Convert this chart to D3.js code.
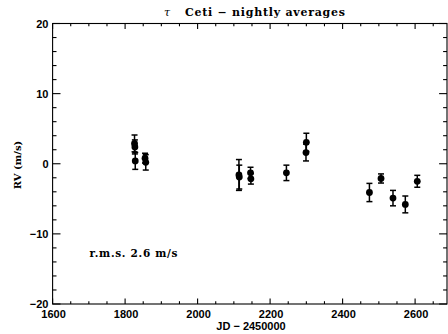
<!DOCTYPE html>
<html><head><meta charset="utf-8">
<script src="https://cdn.jsdelivr.net/npm/d3@7"></script>
<style>body{margin:0;background:#fff}svg{display:block}</style>
</head><body>
<script>
const jd  = [1826, 1827, 1828, 1855, 1857, 2114, 2115, 2146, 2147, 2245, 2299, 2300, 2474, 2506, 2539, 2573, 2606];
const rv  = [2.9, 2.4, 0.4, 0.8, 0.2, -1.6, -1.9, -1.3, -2.15, -1.3, 1.6, 3.05, -4.1, -2.1, -4.9, -5.8, -2.5];
const err = [1.2, 1.0, 1.2, 0.7, 1.1, 2.2, 1.7, 0.8, 0.75, 1.1, 1.2, 1.3, 1.3, 0.65, 1.1, 1.2, 0.85];
const xTicks = [1600, 1800, 2000, 2200, 2400, 2600];
const yTicks = [-20, -10, 0, 10, 20];
const titleText = "Ceti - nightly averages";
const rmsText = "r.m.s. 2.6 m/s";

const W = 448, H = 334;
const L = 52.6, R = 447, T = 23.5, B = 304;
const svg = d3.select("body").append("svg").attr("width", W).attr("height", H);
const x = d3.scaleLinear().domain([1600, 2688]).range([L, R]);
const y = d3.scaleLinear().domain([-20, 20]).range([B, T]);

const tickFont = "bold 11px 'Liberation Sans', Arial, sans-serif";
const g = svg.append("g").attr("stroke", "#000").attr("stroke-width", 1.1);

// frame
g.append("rect").attr("x", L).attr("y", T).attr("width", R - L).attr("height", B - T).attr("fill", "none");

// x ticks
const xMinor = d3.range(1600, 2690, 50);
xMinor.forEach(v => {
  const major = xTicks.includes(v);
  const len = major ? 5.6 : 2.8;
  g.append("line").attr("x1", x(v)).attr("x2", x(v)).attr("y1", B).attr("y2", B - len);
  g.append("line").attr("x1", x(v)).attr("x2", x(v)).attr("y1", T).attr("y2", T + len);
});
// y ticks
const yMinor = d3.range(-20, 20.01, 2);
yMinor.forEach(v => {
  const major = yTicks.includes(v);
  const len = major ? 7.9 : 3.9;
  g.append("line").attr("x1", L).attr("x2", L + len).attr("y1", y(v)).attr("y2", y(v));
  g.append("line").attr("x1", R).attr("x2", R - len).attr("y1", y(v)).attr("y2", y(v));
});

// tick labels
svg.append("g").selectAll("text").data(xTicks).join("text")
  .attr("x", d => x(d) + 1).attr("y", 318).attr("text-anchor", "middle")
  .style("font", tickFont).text(d => d);
svg.append("g").selectAll("text").data(yTicks).join("text")
  .attr("x", 48.5).attr("y", d => y(d) + 4).attr("text-anchor", "end")
  .style("font", tickFont).text(d => d < 0 ? "\u2212" + Math.abs(d) : d);

// axis titles
svg.append("text").attr("x", 251).attr("y", 330).attr("text-anchor", "middle")
  .style("font", tickFont).text("JD \u2212 2450000");
svg.append("text").attr("transform", "translate(21,165) rotate(-90)").attr("text-anchor", "middle")
  .style("font", "bold 10px 'DejaVu Serif', serif").text("RV (m/s)");

// title
const tt = svg.append("text").attr("x", 164).attr("y", 16).style("font", "bold 11px 'DejaVu Serif', serif");
tt.append("tspan").style("font-style", "italic").style("font-weight", "normal").text("\u03c4");
tt.append("tspan").attr("x", 185).attr("textLength", 160).attr("lengthAdjust", "spacing").text(titleText.replace("-", "\u2212"));

// rms
svg.append("text").attr("x", 89.5).attr("y", 256.5).attr("textLength", 88).attr("lengthAdjust", "spacing")
  .style("font", "bold 10.5px 'DejaVu Serif', serif").text(rmsText);

// data
const data = jd.map((d, i) => ({jd: d, rv: rv[i], e: err[i]}));
const dg = svg.append("g");
data.forEach(d => {
  const cx = x(d.jd), y1 = y(d.rv + d.e), y2 = y(d.rv - d.e);
  dg.append("line").attr("x1", cx).attr("x2", cx).attr("y1", y1).attr("y2", y2).attr("stroke", "#000").attr("stroke-width", 1.5);
  dg.append("line").attr("x1", cx - 3).attr("x2", cx + 3).attr("y1", y1).attr("y2", y1).attr("stroke", "#000").attr("stroke-width", 1.5);
  dg.append("line").attr("x1", cx - 3).attr("x2", cx + 3).attr("y1", y2).attr("y2", y2).attr("stroke", "#000").attr("stroke-width", 1.5);
  dg.append("circle").attr("cx", cx).attr("cy", y(d.rv)).attr("r", 3.4).attr("fill", "#000");
});
</script>
</body></html>
